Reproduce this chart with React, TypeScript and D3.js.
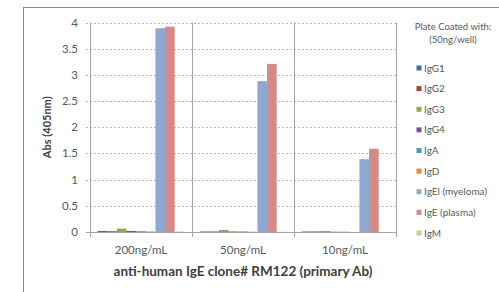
import { useEffect, useRef } from "react";
import * as d3 from "d3";

const categories = ["200ng/mL", "50ng/mL", "10ng/mL"];
const seriesNames = ["IgG1", "IgG2", "IgG3", "IgG4", "IgA", "IgD", "IgEl (myeloma)", "IgE (plasma)", "IgM"];
const seriesColors = ["#3D6EA9", "#A9403C", "#8CAD4E", "#6E5394", "#3E9CB4", "#E9843A", "#8EA8D4", "#D58A88", "#BFD19A"];
// values per series, one per category
const IgG1 = [0.02, 0.01, 0.01];
const IgG2 = [0.015, 0.01, 0.01];
const IgG3 = [0.065, 0.04, 0.02];
const IgG4 = [0.02, 0.01, 0.005];
const IgA = [0.015, 0.01, 0.005];
const IgD = [0.01, 0.005, 0];
const IgEl = [3.89, 2.88, 1.39];
const IgE = [3.92, 3.21, 1.59];
const IgM = [0.01, 0.005, 0];
const seriesValues = [IgG1, IgG2, IgG3, IgG4, IgA, IgD, IgEl, IgE, IgM];
const yTicks = [0, 0.5, 1, 1.5, 2, 2.5, 3, 3.5, 4];

const FONT = "Lato, 'Open Sans', sans-serif";

export default function App() {
  const svgRef = useRef<SVGSVGElement>(null);

  useEffect(() => {
    if (!svgRef.current) return;
    const svg = d3.select(svgRef.current);
    svg.selectAll("*").remove();

    const left = 90, right = 396, top = 22.5, bottom = 232;

    // outer frame
    svg.append("rect")
      .attr("x", 23.5).attr("y", 7.5).attr("width", 490).attr("height", 300)
      .attr("fill", "#fff").attr("stroke", "#8a8a8a").attr("stroke-width", 1);

    const x = d3.scaleBand().domain(categories).range([left, right]).paddingInner(0).paddingOuter(0);
    const y = d3.scaleLinear().domain([0, 4]).range([bottom, top]);
    const inner = d3.scaleBand().domain(seriesNames).range([0, x.bandwidth()]).paddingOuter(0.8).paddingInner(0);

    // dashed gridlines
    svg.append("g")
      .selectAll("line")
      .data(yTicks.filter((t) => t > 0))
      .join("line")
      .attr("x1", left - 4).attr("x2", right)
      .attr("y1", (d) => Math.round(y(d)) + 0.5).attr("y2", (d) => Math.round(y(d)) + 0.5)
      .attr("stroke", "#b8b8b8").attr("stroke-dasharray", "2,2");

    // category separators
    const seps = [left, ...categories.map((c) => x(c)! + x.bandwidth())];
    svg.append("g")
      .selectAll("line")
      .data(seps)
      .join("line")
      .attr("x1", (d) => Math.round(d) + 0.5).attr("x2", (d) => Math.round(d) + 0.5)
      .attr("y1", top).attr("y2", bottom + 5)
      .attr("stroke", "#a6a6a6");

    // bars
    categories.forEach((c, ci) => {
      seriesNames.forEach((s, si) => {
        const v = seriesValues[si][ci];
        const x0 = x(c)! + inner(s)!;
        svg.append("rect")
          .attr("x", x0).attr("y", y(v))
          .attr("width", inner.bandwidth()).attr("height", bottom - y(v))
          .attr("fill", seriesColors[si]);
      });
    });

    // x axis line
    svg.append("line")
      .attr("x1", left - 4).attr("x2", right)
      .attr("y1", bottom + 0.5).attr("y2", bottom + 0.5)
      .attr("stroke", "#a6a6a6");

    // y tick labels
    svg.append("g")
      .selectAll("text")
      .data(yTicks)
      .join("text")
      .attr("x", 78).attr("y", (d) => y(d) + 4)
      .attr("text-anchor", "end")
      .attr("font-family", FONT).attr("font-size", 11.5).attr("fill", "#595959")
      .text((d) => String(d));

    // x tick labels
    svg.append("g")
      .selectAll("text")
      .data(categories)
      .join("text")
      .attr("x", (d) => x(d)! + x.bandwidth() / 2).attr("y", 254)
      .attr("text-anchor", "middle")
      .attr("font-family", FONT).attr("font-size", 11.5).attr("fill", "#595959")
      .text((d) => d);

    // axis titles
    svg.append("text")
      .attr("transform", `translate(51,${(top + bottom) / 2}) rotate(-90)`)
      .attr("text-anchor", "middle")
      .attr("font-family", FONT).attr("font-size", 11).attr("font-weight", "bold").attr("fill", "#404040")
      .text("Abs (405nm)");
    svg.append("text")
      .attr("x", (left + right) / 2).attr("y", 276)
      .attr("text-anchor", "middle")
      .attr("font-family", FONT).attr("font-size", 13.5).attr("font-weight", "bold").attr("fill", "#404040")
      .text("anti-human IgE clone# RM122 (primary Ab)");

    // legend
    const lg = svg.append("g");
    lg.append("text").attr("x", 453).attr("y", 30).attr("text-anchor", "middle")
      .attr("font-family", FONT).attr("font-size", 9.5).attr("fill", "#595959").text("Plate Coated with:");
    lg.append("text").attr("x", 453).attr("y", 43).attr("text-anchor", "middle")
      .attr("font-family", FONT).attr("font-size", 9.5).attr("fill", "#595959").text("(50ng/well)");
    const ly = d3.scalePoint().domain(seriesNames).range([68, 233]);
    seriesNames.forEach((s, i) => {
      lg.append("rect").attr("x", 416.5).attr("y", ly(s)! - 2.5).attr("width", 5).attr("height", 5)
        .attr("fill", seriesColors[i]);
      lg.append("text").attr("x", 424).attr("y", ly(s)! + 3.5)
        .attr("font-family", FONT).attr("font-size", 10).attr("fill", "#595959").text(s);
    });
  }, []);

  return <svg ref={svgRef} width={499} height={292} style={{ position: "absolute", left: 0, top: 0 }} />;
}
